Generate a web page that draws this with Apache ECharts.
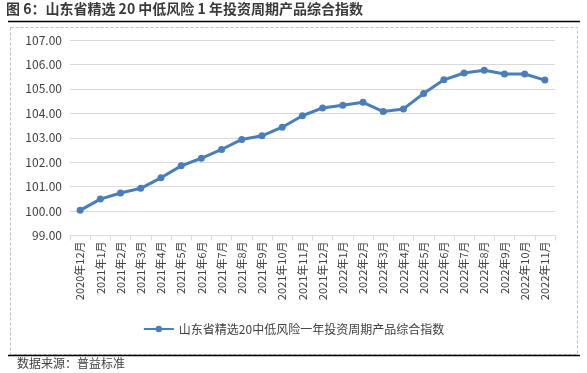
<!DOCTYPE html>
<html>
<head>
<meta charset="utf-8">
<script src="https://cdn.jsdelivr.net/npm/echarts@6/dist/echarts.min.js"></script>
<style>html,body{margin:0;padding:0;background:#fff}#c{width:587px;height:373px}</style>
</head>
<body>
<div id="c"></div>
<script>
const categories = ["2020年12月","2021年1月","2021年2月","2021年3月","2021年4月","2021年5月","2021年6月","2021年7月","2021年8月","2021年9月","2021年10月","2021年11月","2021年12月","2022年1月","2022年2月","2022年3月","2022年4月","2022年5月","2022年6月","2022年7月","2022年8月","2022年9月","2022年10月","2022年11月"];
const indexValues = [100.03,100.49,100.74,100.93,101.36,101.85,102.16,102.52,102.93,103.08,103.43,103.90,104.22,104.33,104.45,104.07,104.18,104.81,105.37,105.65,105.76,105.61,105.61,105.36];
const seriesName = "山东省精选20中低风险一年投资周期产品综合指数";
const titleText = "图 6：山东省精选 20 中低风险 1 年投资周期产品综合指数";
const sourceText = "数据来源：普益标准";

const chart = echarts.init(document.getElementById('c'));
const cjk = '"Noto Sans CJK SC", sans-serif';
chart.setOption({
  animation: false,
  textStyle: {fontFamily: cjk},
  grid: {left: 70, right: 32, top: 40, bottom: 137.5},
  legend: {
    data: [seriesName], bottom: 33, left: 'center',
    itemWidth: 30, itemHeight: 8, itemGap: 6,
    textStyle: {fontSize: 12, color: '#404040', fontFamily: cjk}
  },
  xAxis: {
    type: 'category', data: categories, boundaryGap: true,
    axisLine: {lineStyle: {color: '#d9d9d9'}},
    axisTick: {show: true, alignWithLabel: false, lineStyle: {color: '#d9d9d9'}},
    axisLabel: {rotate: 90, interval: 0, fontSize: 11, color: '#404040', margin: 6}
  },
  yAxis: {
    type: 'value', min: 99, max: 107, interval: 1,
    axisLine: {show: false}, axisTick: {show: false},
    splitLine: {lineStyle: {color: '#d9d9d9'}},
    axisLabel: {fontSize: 12, color: '#404040', margin: 8, formatter: v => v.toFixed(2)}
  },
  series: [{
    name: seriesName, type: 'line', data: indexValues,
    symbol: 'circle', symbolSize: 7,
    lineStyle: {color: '#4a7ebb', width: 3},
    itemStyle: {color: '#4a7ebb'}
  }],
  graphic: [
    {type: 'text', left: 6, top: 2, style: {text: titleText, font: 'bold 14px "Noto Sans CJK SC"', fill: '#3a3a3a'}},
    {type: 'line', shape: {x1: 8, y1: 21.5, x2: 580, y2: 21.5}, style: {stroke: '#000', lineWidth: 1.5}},
    {type: 'rect', shape: {x: 10.5, y: 27.5, width: 567, height: 327}, style: {fill: 'none', stroke: '#bfbfbf', lineDash: [3, 2], lineWidth: 1}},
    {type: 'line', shape: {x1: 8, y1: 355.5, x2: 580, y2: 355.5}, style: {stroke: '#000', lineWidth: 1.5}},
    {type: 'text', left: 17, top: 357, style: {text: sourceText, font: '12px "Noto Sans CJK SC"', fill: '#404040'}}
  ]
});
</script>
</body>
</html>
